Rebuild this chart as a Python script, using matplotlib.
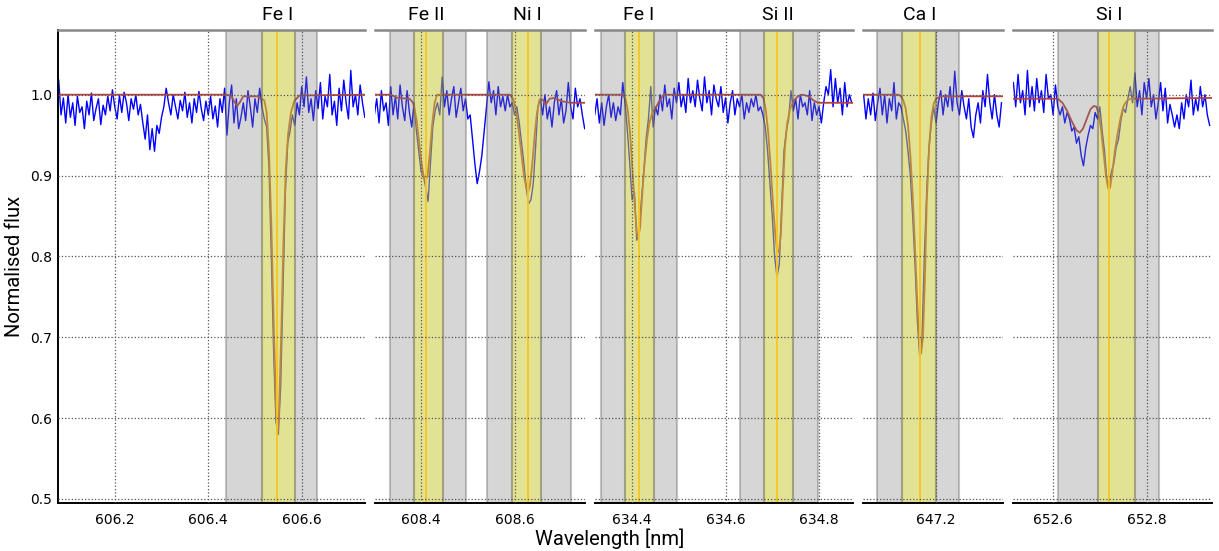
import numpy as np
import matplotlib.pyplot as plt
from matplotlib.ticker import FormatStrFormatter

# observed spectrum chunks: first pixel wavelength [nm], constant pixel step [nm]
chunk_start = [606.080, 608.300, 634.320, 647.045, 652.515]
pix_step = 0.005

flux_1 = [1.018, 0.975, 0.996, 0.965, 1.000, 0.972, 0.990, 0.962, 0.998, 0.978,
          0.985, 0.958, 0.992, 0.975, 1.002, 0.968, 0.983, 0.995, 0.963, 0.987,
          0.975, 0.998, 0.980, 1.006, 0.985, 0.970, 0.999, 0.978, 1.003, 0.990,
          0.968, 0.995, 0.982, 1.000, 0.975, 0.988,
          0.965, 0.945, 0.975, 0.932, 0.958, 0.930, 0.962, 0.952, 0.972,
          0.985, 1.008, 0.990, 0.975, 1.000, 0.985, 0.970, 0.993, 0.980, 1.003,
          0.972, 0.990, 0.965, 0.995, 0.978, 1.004, 0.983, 0.968, 0.992, 0.975,
          0.998, 0.970, 0.986, 0.960, 0.995, 0.978, 1.008,
          0.950,
          0.990, 1.012, 0.965, 0.995, 0.958, 0.972, 0.990, 0.968, 1.005, 0.985,
          0.960, 0.995, 0.978, 1.008,
          0.985, 0.970, 0.960, 0.910, 0.800, 0.680, 0.595, 0.580, 0.640, 0.760,
          0.880, 0.940, 0.955, 0.975,
          0.962, 0.990, 0.975, 1.010, 0.985, 1.022, 0.978, 0.995, 0.968, 1.005,
          0.983, 1.015, 0.970, 0.998, 0.985, 1.025, 0.975, 0.992, 0.962, 1.008,
          0.980, 1.018, 0.990, 0.970, 1.030, 0.985, 1.000, 0.975, 1.012, 0.990, 0.972]

flux_2 = [0.975, 0.995, 0.965, 1.005, 0.980, 0.990, 0.962, 1.010, 0.975, 0.998,
          0.970, 1.012, 0.985, 0.968, 1.005, 0.978, 0.960,
          0.990, 0.955, 0.930, 0.905, 0.900, 0.885, 0.868, 0.915, 0.960, 0.980,
          0.990, 0.975, 1.022,
          0.985, 1.005, 0.975, 0.995, 1.010, 0.972, 0.990, 1.008, 0.980, 0.995, 0.970,
          0.975, 0.945, 0.915, 0.890, 0.905, 0.925, 0.955, 0.985,
          1.016, 0.990, 1.005, 0.975, 1.010, 0.985, 0.998, 0.980,
          1.000, 0.985, 0.990, 0.975, 0.985, 0.965, 0.940, 0.915, 0.885, 0.865,
          0.870, 0.890, 0.935, 0.985,
          0.995, 0.975, 1.000, 0.970, 0.985, 0.960, 0.990, 1.005, 0.975, 0.995,
          0.965, 0.980, 1.015, 0.985, 0.970, 1.008, 0.985, 0.995, 0.975, 0.958]

flux_3 = [0.975, 0.995, 0.965, 0.990, 0.962, 0.985, 1.000, 0.972, 0.990, 0.968,
          0.985, 0.975, 1.015,
          0.990, 0.955, 0.915, 0.870, 0.880, 0.820, 0.830, 0.870, 0.905, 0.945,
          0.970, 1.010, 0.960, 0.985,
          0.975, 1.000, 0.980, 1.012, 0.985, 0.995, 0.970, 1.008, 0.990, 1.015,
          0.985, 1.000, 0.978, 1.020, 0.990, 1.005, 0.985, 1.018, 0.995, 0.980,
          1.022, 0.990, 1.005, 0.975, 1.012, 0.995, 0.985, 1.010, 0.978, 0.996,
          0.965, 0.990, 1.005, 0.975, 0.995, 0.985, 1.000, 0.970, 0.990, 0.978,
          0.995, 0.985, 1.000, 0.980,
          0.985, 0.975, 0.960, 0.930, 0.890, 0.850, 0.800, 0.775, 0.790, 0.860,
          0.930, 0.955, 0.970, 1.005,
          0.980, 0.995, 0.970, 1.000, 0.985, 0.990, 0.975, 1.005, 0.968, 0.990,
          0.975, 0.985, 0.965, 0.990, 1.010, 1.000, 1.031, 0.985, 1.020, 0.990,
          1.008, 0.975, 1.015, 0.985, 1.000, 0.990]

flux_4 = [1.000, 0.970, 0.995, 0.975, 1.002, 0.968, 0.990, 1.008, 0.975, 1.000,
          0.965, 0.995, 0.980, 1.015, 0.970, 0.990,
          0.985, 0.970, 0.955, 0.930, 0.900, 0.850, 0.790, 0.720, 0.677, 0.700,
          0.800, 0.880, 0.935, 0.965, 0.985, 0.965,
          0.990, 1.005, 0.975, 1.000, 0.985, 1.010, 0.980, 1.029, 0.990, 0.975,
          1.005, 0.985, 0.970, 0.995, 0.960, 0.947, 0.975, 0.990, 0.965, 1.005,
          0.985, 1.025, 0.990, 0.970, 1.000, 0.975, 0.960, 0.990]

flux_5 = [1.015, 0.985, 1.025, 0.990, 1.005, 0.975, 1.030, 0.985, 1.010, 0.980,
          1.020, 0.990, 1.005, 0.978, 1.025, 0.995, 1.000, 0.975, 1.012, 0.985,
          0.975, 0.985, 0.965, 0.978, 0.970, 0.955, 0.960, 0.940, 0.948, 0.925,
          0.912, 0.935, 0.950, 0.962, 0.958, 0.978, 0.970, 0.985, 0.955, 0.930,
          0.895, 0.888, 0.905, 0.915, 0.935, 0.945, 0.968, 0.983, 0.978, 0.995,
          1.010, 0.990, 1.027, 0.985, 1.005, 0.975, 1.015, 0.995, 1.020, 0.985,
          1.000, 0.970, 0.990, 1.015, 0.980, 1.008, 0.965, 0.988, 0.975, 0.960,
          0.975, 0.958, 0.990, 0.970, 1.000, 0.985, 1.018, 0.975, 0.995, 0.980,
          1.010, 0.985, 1.000, 0.975, 0.962]

# synthetic fit (continuum + line profiles)
model_wave_1 = [606.080, 606.440, 606.450, 606.456, 606.462, 606.468, 606.475, 606.505,
                606.520, 606.525, 606.530, 606.535, 606.540, 606.545, 606.548, 606.551,
                606.556, 606.561, 606.566, 606.571, 606.577, 606.584, 606.595, 606.736]
model_flux_1 = [1.000, 1.000, 0.998, 0.991, 0.986, 0.991, 0.998, 0.998,
                0.993, 0.978, 0.930, 0.840, 0.720, 0.615, 0.580, 0.600,
                0.700, 0.820, 0.910, 0.952, 0.978, 0.992, 0.999, 1.000]

model_wave_2 = [608.302, 608.335, 608.350, 608.375, 608.383, 608.390, 608.395, 608.400,
                608.405, 608.409, 608.414, 608.419, 608.424, 608.429, 608.434, 608.590,
                608.597, 608.603, 608.609, 608.615, 608.620, 608.625, 608.629, 608.633,
                608.638, 608.643, 608.648, 608.653, 608.660, 608.667, 608.675, 608.685,
                608.700, 608.720, 608.751]
model_flux_2 = [1.000, 1.000, 0.996, 0.995, 0.990, 0.970, 0.945, 0.920,
                0.900, 0.893, 0.900, 0.930, 0.965, 0.990, 1.000, 1.000,
                0.995, 0.980, 0.955, 0.925, 0.900, 0.885, 0.880, 0.888,
                0.915, 0.950, 0.978, 0.993, 0.994, 0.988, 0.995, 0.996,
                0.992, 0.990, 0.990]

model_wave_3 = [634.321, 634.380, 634.386, 634.391, 634.396, 634.401, 634.406, 634.410,
                634.413, 634.417, 634.421, 634.426, 634.432, 634.437, 634.443, 634.450,
                634.458, 634.468, 634.675, 634.681, 634.686, 634.691, 634.696, 634.701,
                634.706, 634.710, 634.714, 634.718, 634.722, 634.727, 634.732, 634.738,
                634.745, 634.755, 634.765, 634.778, 634.788, 634.798, 634.873]
model_flux_3 = [1.000, 1.000, 0.995, 0.980, 0.950, 0.905, 0.860, 0.830,
                0.823, 0.835, 0.870, 0.910, 0.945, 0.965, 0.977, 0.983,
                0.992, 1.000, 1.000, 0.996, 0.982, 0.955, 0.915, 0.870,
                0.830, 0.808, 0.805, 0.825, 0.875, 0.935, 0.965, 0.982,
                0.992, 0.998, 1.000, 0.998, 0.993, 0.990, 0.990]

model_wave_4 = [647.044, 647.120, 647.125, 647.130, 647.135, 647.140, 647.145, 647.150,
                647.155, 647.160, 647.164, 647.168, 647.172, 647.176, 647.180, 647.185,
                647.190, 647.195, 647.200, 647.210, 647.343]
model_flux_4 = [1.000, 1.000, 0.998, 0.993, 0.983, 0.962, 0.925, 0.875,
                0.810, 0.740, 0.695, 0.680, 0.700, 0.770, 0.865, 0.935,
                0.972, 0.989, 0.995, 0.998, 0.998]

model_wave_5 = [652.514, 652.610, 652.620, 652.630, 652.640, 652.650, 652.657, 652.664,
                652.672, 652.680, 652.687, 652.693, 652.698, 652.703, 652.708, 652.713,
                652.718, 652.722, 652.727, 652.732, 652.738, 652.744, 652.750, 652.757,
                652.765, 652.940]
model_flux_5 = [0.995, 0.995, 0.990, 0.980, 0.967, 0.956, 0.953, 0.958,
                0.970, 0.982, 0.986, 0.985, 0.975, 0.955, 0.928, 0.900,
                0.884, 0.885, 0.905, 0.930, 0.952, 0.970, 0.985, 0.992,
                0.995, 0.996]

# lines: name, chunk index, centre, fit window (grey) and line window (yellow)
line_names = ['Fe I', 'Fe II', 'Ni I', 'Fe I', 'Si II', 'Ca I', 'Si I']
line_chunk = [0, 1, 1, 2, 2, 3, 4]
line_centre = [606.548, 608.411, 608.628, 634.415, 634.711, 647.166, 652.720]
window_lo = [606.437, 608.334, 608.541, 634.334, 634.630, 647.074, 652.611]
window_hi = [606.633, 608.497, 608.721, 634.496, 634.797, 647.249, 652.827]
core_lo = [606.515, 608.384, 608.594, 634.385, 634.682, 647.127, 652.696]
core_hi = [606.585, 608.446, 608.656, 634.446, 634.744, 647.200, 652.775]

x_lims = [(606.0785, 606.736), (608.302, 608.751), (634.321, 634.873),
          (647.044, 647.343), (652.514, 652.940)]
x_ticks = [[606.2, 606.4, 606.6], [608.4, 608.6], [634.4, 634.6, 634.8],
           [647.2], [652.6, 652.8]]
y_ticks = [0.5, 0.6, 0.7, 0.8, 0.9, 1.0]

fluxes = [flux_1, flux_2, flux_3, flux_4, flux_5]
model_waves = [model_wave_1, model_wave_2, model_wave_3, model_wave_4, model_wave_5]
model_fluxes = [model_flux_1, model_flux_2, model_flux_3, model_flux_4, model_flux_5]

fig = plt.figure(figsize=(12.19, 5.51), dpi=100)
spans = [hi - lo for lo, hi in x_lims]
gs = fig.add_gridspec(1, 5, width_ratios=spans, left=58/1219, right=1212/1219,
                      top=1 - 30/551, bottom=1 - 503/551, wspace=0.045)

for k in range(5):
    ax = fig.add_subplot(gs[0, k])
    wave = chunk_start[k] + pix_step * np.arange(len(fluxes[k]))
    ax.plot(wave, fluxes[k], color='#0000ff', lw=1.0, zorder=1)
    ax.plot(model_waves[k], model_fluxes[k], color='#b4433c', lw=1.3, zorder=1.1)

    for j in range(len(line_names)):
        if line_chunk[j] != k:
            continue
        ax.axvspan(window_lo[j], window_hi[j], facecolor=(0.5, 0.5, 0.5, 0.32),
                   edgecolor=(0.35, 0.35, 0.35, 0.35), lw=1.5, zorder=1.5)
        ax.axvspan(core_lo[j], core_hi[j], facecolor=(1.0, 1.0, 0.0, 0.30),
                   edgecolor=(0.35, 0.35, 0.25, 0.45), lw=1.5, zorder=1.6)
        ax.axvline(line_centre[j], color='#f7c520', lw=1.3, zorder=1.8)
        ax.text(line_centre[j], 1.013, line_names[j], transform=ax.get_xaxis_transform(),
                ha='center', va='bottom', fontsize=14, family='Roboto')

    ax.set_xlim(x_lims[k])
    ax.set_ylim(0.495, 1.08)
    ax.set_xticks(x_ticks[k])
    ax.xaxis.set_major_formatter(FormatStrFormatter('%.1f'))
    ax.set_yticks(y_ticks)
    ax.set_axisbelow(False)
    ax.grid(True, color='#555555', linestyle=':', lw=0.9)
    ax.tick_params(length=0, labelsize=10, pad=7)

    ax.spines['right'].set_visible(False)
    ax.spines['top'].set_color('#888888')
    ax.spines['top'].set_linewidth(1.8)
    ax.spines['bottom'].set_color('black')
    ax.spines['bottom'].set_linewidth(1.4)
    if k == 0:
        ax.spines['left'].set_color('black')
        ax.spines['left'].set_linewidth(1.4)
        ax.yaxis.set_major_formatter(FormatStrFormatter('%.1f'))
        ax.tick_params(axis='y', pad=4)
    else:
        ax.spines['left'].set_visible(False)
        ax.tick_params(axis='y', labelleft=False)

fig.text(15/1219, 1 - 266/551, 'Normalised flux', rotation=90, ha='center', va='center',
         fontsize=14.5, family='Roboto')
fig.text(0.5, 1 - 539/551, 'Wavelength [nm]', ha='center', va='center',
         fontsize=14.5, family='Roboto')

fig.savefig('out.png', dpi=100)
